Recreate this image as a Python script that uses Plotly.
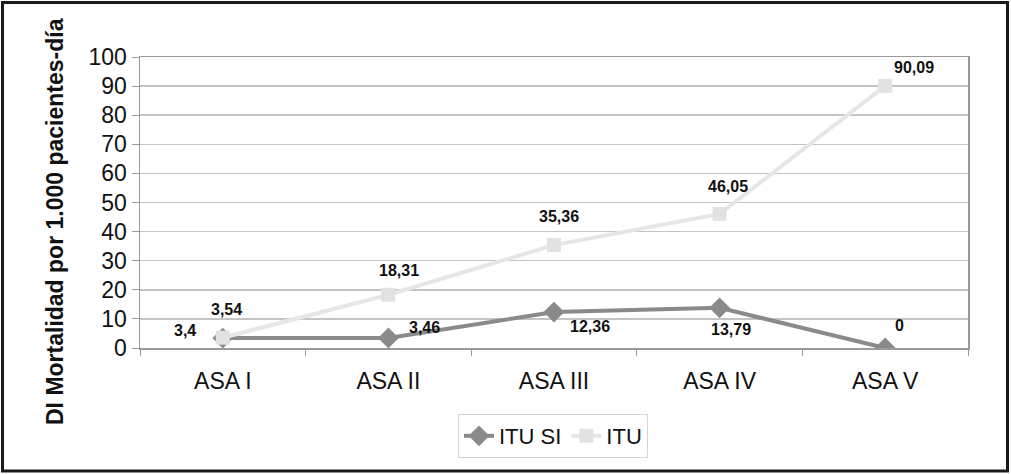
import plotly.graph_objects as go

categories = ["ASA I", "ASA II", "ASA III", "ASA IV", "ASA V"]
itu_si = [3.4, 3.46, 12.36, 13.79, 0]
itu = [3.54, 18.31, 35.36, 46.05, 90.09]
itu_si_labels = ["3,4", "3,46", "12,36", "13,79", "0"]
itu_labels = ["3,54", "18,31", "35,36", "46,05", "90,09"]
y_ticks = list(range(0, 101, 10))

# label offsets (pixels) – styling only
si_shift = [(-38, 8), (36, 10), (36, -14), (11, -22), (14, 23)]
itu_shift = [(4, 28), (11, 24), (5, 29), (8, 27), (29, 18)]

FONT = "Liberation Sans, Arial, sans-serif"
SI_COLOR = "#8a8a8a"
ITU_COLOR = "#e6e6e6"

fig = go.Figure()
fig.add_trace(go.Scatter(
    x=categories, y=itu_si, name="ITU SI", mode="lines+markers",
    line=dict(color=SI_COLOR, width=4),
    marker=dict(symbol="diamond", size=16, color=SI_COLOR),
))
fig.add_trace(go.Scatter(
    x=categories, y=itu, name="ITU", mode="lines+markers",
    line=dict(color=ITU_COLOR, width=4),
    marker=dict(symbol="square", size=14, color="#e2e2e2"),
))

annotations = []
for cat, v, t, (dx, dy) in zip(categories, itu_si, itu_si_labels, si_shift):
    annotations.append(dict(x=cat, y=v, text=t, showarrow=False, xshift=dx, yshift=dy,
                            font=dict(family=FONT, size=16, color="#111111", weight="bold")))
for cat, v, t, (dx, dy) in zip(categories, itu, itu_labels, itu_shift):
    annotations.append(dict(x=cat, y=v, text=t, showarrow=False, xshift=dx, yshift=dy,
                            font=dict(family=FONT, size=16, color="#111111", weight="bold")))

# y-axis title
annotations.append(dict(
    xref="paper", yref="paper", x=(55 - 140) / 828, y=(348 - 222) / 291,
    text="DI Mortalidad por 1.000 pacientes-día", textangle=-90, showarrow=False,
    font=dict(family=FONT, size=23, color="#111111", weight="bold"),
    xanchor="center", yanchor="middle",
))

fig.update_layout(
    width=1011, height=474,
    margin=dict(l=140, r=43, t=57, b=126),
    paper_bgcolor="white", plot_bgcolor="white",
    showlegend=True,
    legend=dict(
        orientation="h", x=(553 - 140) / 828, xanchor="center",
        y=(348 - 414) / 291, yanchor="top",
        bordercolor="#d4d4d4", borderwidth=1,
        font=dict(family=FONT, size=22, color="#111111"),
        itemwidth=30, tracegroupgap=0,
    ),
    annotations=annotations,
    hovermode=False,
    shapes=[dict(
        type="rect", xref="paper", yref="paper",
        x0=(2.5 - 140) / 828, x1=(1007.5 - 140) / 828,
        y0=(348 - 471) / 291, y1=(348 - 2.5) / 291,
        line=dict(color="#1a1a1a", width=3), fillcolor="rgba(0,0,0,0)",
    )],
)

fig.update_xaxes(
    type="category", categoryorder="array", categoryarray=categories,
    range=[-0.5, 4.5], showgrid=False,
    showline=True, linecolor="#9a9a9a", linewidth=1.5, mirror=True,
    ticks="outside", tickson="boundaries", ticklen=6, tickcolor="#9a9a9a",
    ticklabelstandoff=12,
    tickfont=dict(family=FONT, size=23, color="#111111"),
)
fig.update_yaxes(
    range=[0, 100], tickvals=y_ticks, ticktext=[str(v) for v in y_ticks],
    showgrid=True, gridcolor="#c4c4c4", gridwidth=1.5,
    showline=True, linecolor="#9a9a9a", linewidth=1.5, mirror=True,
    ticks="outside", ticklen=7, tickcolor="#9a9a9a",
    tickfont=dict(family=FONT, size=23, color="#111111"),
    zeroline=False,
)

fig.write_html(
    "out.html",
    config={"displayModeBar": False, "staticPlot": True},
    post_script="document.body.style.margin='0';document.body.style.overflow='hidden';",
)
